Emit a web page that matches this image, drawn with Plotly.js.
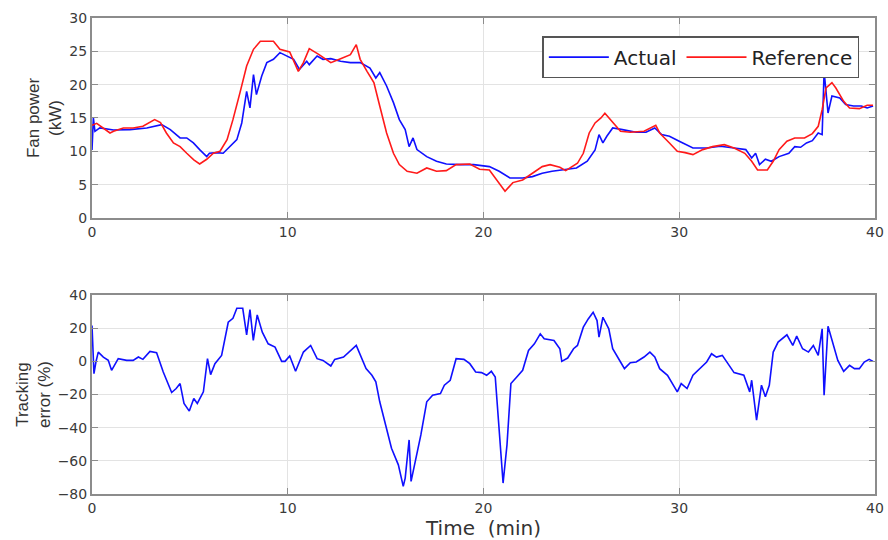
<!DOCTYPE html>
<html>
<head>
<meta charset="utf-8">
<script src="https://cdn.plot.ly/plotly-3.0.1.min.js"></script>
<style>html,body{margin:0;padding:0;background:#fff}#chart{width:888px;height:540px}</style>
</head>
<body>
<div id="chart"></div>
<script>
// Fan power: reference setpoint (kW)
var tRef = [0,0.24,0.92,1.1,1.6,2.1,2.6,3.2,3.5,3.8,4.16,4.5,4.84,5.2,5.5,5.86,6.2,6.54,6.9,7.2,7.56,7.9,8.25,8.6,9.27,9.6,10.1,10.54,10.8,11.1,11.6,12.2,12.7,13.2,13.5,13.7,14.05,14.4,14.7,15.05,15.4,15.7,16.1,16.6,17.1,17.6,18.1,18.6,19.3,19.8,20.3,20.67,21.1,21.5,22,22.5,23,23.4,23.9,24.2,24.8,25.1,25.4,25.7,26,26.2,26.5,27,27.5,28.2,28.8,29,29.5,29.9,30.3,30.7,31.2,31.7,32.3,32.8,33.35,33.7,34,34.5,34.8,35.1,35.5,35.9,36.4,36.8,37.1,37.3,37.5,37.8,38,38.4,38.7,39.2,39.6,39.9];
var pRef = [13.9,14.2,12.75,13,13.5,13.5,13.75,14.75,14.3,12.75,11.25,10.7,9.7,8.7,8.1,8.8,9.7,10,11.75,14.75,18.8,22.8,25.3,26.5,26.5,25.3,24.9,22,23.3,25.4,24.5,23.3,23.9,24.5,26,23.8,22,20.3,16.8,12.75,9.7,8,7,6.7,7.5,7,7.1,8,8.1,7.3,7.2,5.7,4,5.3,5.7,6.7,7.7,8,7.6,7.1,8.2,9.7,12.75,14.25,15,15.7,14.75,13,12.85,13,13.9,12.75,11.25,10,9.8,9.5,10.25,10.7,11,10.5,9.7,8.5,7.2,7.2,8.5,10.25,11.5,12,12,12.65,13.75,16.25,19.5,20.3,19.5,17.5,16.5,16.4,16.9,16.9];
// Fan power: actual (kW)
var tAct = [0,0.07,0.15,0.4,1.1,1.94,2.8,3.3,3.56,4,4.5,4.84,5.18,5.5,5.86,6,6.37,6.7,7.05,7.4,7.65,7.9,8.07,8.25,8.4,8.67,8.93,9.27,9.6,10.3,10.6,10.97,11.1,11.5,11.8,12.2,12.7,13.2,13.7,14.2,14.5,14.7,15.05,15.4,15.7,16,16.2,16.4,16.6,17.1,17.6,18.1,18.8,19.5,20.3,20.8,21.35,22,22.5,23,23.5,24.1,24.75,25.3,25.7,25.9,26.1,26.3,26.6,27.1,27.8,28.3,28.75,29.1,29.5,30,30.7,31.4,32.1,32.8,33.4,33.7,33.9,34.1,34.4,34.7,35.1,35.6,35.9,36.2,36.5,36.8,37.1,37.3,37.4,37.6,37.8,38.2,38.5,38.9,39.3,39.6,39.9];
var pAct = [10.2,15,13,13.5,13.2,13.25,13.5,13.9,14,13.25,12,12,11.25,10.25,9.2,9.7,9.8,9.7,10.7,11.75,14.25,19,16.5,21.5,18.5,21.3,23.3,23.8,24.8,23.8,22.3,23.5,23,24.3,23.8,23.9,23.5,23.3,23.3,22.5,21,21.8,19.8,17.3,14.75,13.25,10.7,12,10.25,9.2,8.5,8.1,8,8,7.7,7,6,6,6.2,6.7,7,7.2,7.5,8.5,10.2,12.5,11.25,12.25,13.5,13.25,12.85,12.85,13.5,12.5,12.25,11.5,10.5,10.5,10.75,10.5,10.25,9,9.7,8,8.8,8.5,9.2,9.7,10.7,10.6,11.25,11.6,12.75,12.5,22,15.75,18.3,18,17,16.8,16.8,16.5,16.8];
// Tracking error (%)
var tErr = [0,0.1,0.2,0.32,0.58,0.83,1.0,1.34,1.77,2.1,2.37,2.6,2.96,3.3,3.64,3.9,4.07,4.3,4.5,4.7,4.97,5.2,5.38,5.69,5.9,6.06,6.28,6.62,6.96,7.2,7.4,7.7,7.9,8.07,8.24,8.44,8.7,9.0,9.35,9.69,9.86,10.1,10.4,10.8,11.17,11.5,11.8,12.2,12.4,12.85,13.2,13.5,14.0,14.3,14.5,14.7,15.0,15.3,15.65,15.9,16.0,16.2,16.3,16.6,16.8,17.1,17.4,17.8,18.0,18.3,18.6,19.0,19.3,19.6,19.9,20.16,20.4,20.6,20.84,21.0,21.2,21.4,21.7,22.0,22.3,22.6,22.9,23.1,23.6,23.9,24.0,24.3,24.6,24.8,25.1,25.35,25.6,25.8,25.9,26.1,26.4,26.6,27.0,27.2,27.5,27.8,28.2,28.5,28.75,29.0,29.4,29.7,29.9,30.1,30.4,30.7,31.05,31.4,31.65,31.9,32.2,32.5,32.8,33.3,33.6,33.7,33.95,34.2,34.4,34.6,34.8,35.05,35.5,35.8,36.0,36.3,36.6,36.85,37.1,37.3,37.4,37.6,37.85,38.1,38.4,38.7,38.95,39.2,39.45,39.7,39.9];
var eErr = [21.6,-7.4,-0.4,5.6,2.6,0.6,-5.4,1.6,0.6,0.6,2.6,1.2,6,5.2,-6.4,-13.4,-18.8,-16.4,-13.4,-25.4,-30,-22.4,-25.4,-18.4,1.6,-8,-1.4,3.6,23.6,26,32,32,16,31.2,12.6,28,17.6,10.6,8.6,0,0,3.2,-6,5.6,9.6,1.6,0.6,-2.8,1.2,2.6,6.6,9.6,-4.4,-8.4,-12.4,-24.4,-38.4,-52.4,-62.4,-75.4,-70.4,-47.4,-72.4,-56.4,-44.4,-24.4,-20.4,-19.4,-14.4,-11.4,1.6,1.2,-1.4,-6.4,-6.8,-8.4,-6,-9.4,-44.4,-73.4,-50.4,-13.4,-9.4,-5.4,6.6,10.6,16.6,13.6,12.6,7.6,0,2,7.6,9.6,20.6,25.6,29.6,24.6,14.6,26.6,19.6,7.6,-0.4,-4.4,-0.8,-0.4,2.6,5.6,2.6,-4.4,-8.4,-14.4,-18.4,-13.4,-16.4,-8.4,-4.4,-0.4,4.6,2.6,3.6,-1.4,-6.8,-8.4,-18.4,-11.4,-35.4,-14.4,-21.4,-14.4,5.6,11.6,16,9.6,15.2,7.6,5.6,9.6,3.6,19.6,-20.4,21.2,10.6,0.6,-6,-2.4,-4.4,-4.4,-0.4,1.2,0];

var xTicks = [0,10,20,30,40];
var yTopTicks = [0,5,10,15,20,25,30];
var yBotTicks = [-80,-60,-40,-20,0,20,40];

var wideFont = 'DejaVu Sans, Liberation Sans, sans-serif';
var narrowFont = 'Liberation Sans, Arial, sans-serif';

var axisCommon = {
  showline: true, mirror: 'ticks', linecolor: '#8c8c8c', linewidth: 2,
  ticks: 'inside', ticklen: 6, tickwidth: 1, tickcolor: '#8c8c8c',
  showgrid: true, gridcolor: '#e3e3e3', gridwidth: 1, zeroline: false,
  tickfont: {family: wideFont, size: 14, color: '#3a3a3a'}
};

var traces = [
  {x: tAct, y: pAct, type: 'scatter', mode: 'lines', name: 'Actual', line: {color: '#1010ff', width: 1.6}, xaxis: 'x', yaxis: 'y'},
  {x: tRef, y: pRef, type: 'scatter', mode: 'lines', name: 'Reference', line: {color: '#ff1a1a', width: 1.6}, xaxis: 'x', yaxis: 'y'},
  {x: tErr, y: eErr, type: 'scatter', mode: 'lines', name: 'Tracking error', showlegend: false, line: {color: '#1010ff', width: 1.6}, xaxis: 'x2', yaxis: 'y2'}
];

var layout = {
  width: 888, height: 540,
  margin: {l: 92, r: 13, t: 18, b: 46},
  paper_bgcolor: '#fff', plot_bgcolor: '#fff',
  font: {family: wideFont, color: '#333'},
  showlegend: true,
  legend: {
    x: 0.98, y: 0.962, xanchor: 'right', yanchor: 'top', orientation: 'h',
    bgcolor: '#fff', bordercolor: '#555', borderwidth: 1.5,
    font: {family: wideFont, size: 20, color: '#222'}, itemwidth: 60, tracegroupgap: 0
  },
  xaxis: Object.assign({}, axisCommon, {domain: [0,1], range: [0,40], tickvals: xTicks, anchor: 'y'}),
  yaxis: Object.assign({}, axisCommon, {domain: [0.58,1], range: [0,30], tickvals: yTopTicks, anchor: 'x',
    title: {text: 'Fan power<br>(kW)', font: {family: narrowFont, size: 17, color: '#333'}, standoff: 3}}),
  xaxis2: Object.assign({}, axisCommon, {domain: [0,1], range: [0,40], tickvals: xTicks, anchor: 'y2',
    title: {text: 'Time\u00a0\u00a0(min)', font: {family: wideFont, size: 20, color: '#333'}, standoff: 0}}),
  yaxis2: Object.assign({}, axisCommon, {domain: [0,0.418], range: [-80,40], tickvals: yBotTicks, anchor: 'x2',
    title: {text: 'Tracking<br>error (%)', font: {family: narrowFont, size: 17, color: '#333'}, standoff: 3}})
};

Plotly.newPlot('chart', traces, layout, {displayModeBar: false, staticPlot: true});
</script>
</body>
</html>
